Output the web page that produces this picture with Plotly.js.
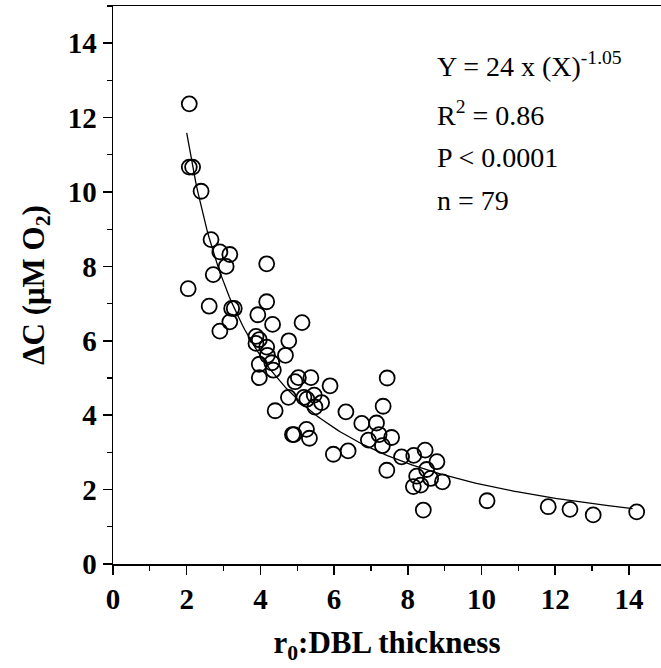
<!DOCTYPE html>
<html>
<head>
<meta charset="utf-8">
<script src="https://cdn.plot.ly/plotly-3.0.1.min.js"></script>
<style>html,body{margin:0;padding:0;background:#fff;}#chart{width:661px;height:668px;}</style>
</head>
<body>
<div id="chart"></div>
<script>
// r0 : DBL thickness (x) and ΔC (µM O2) (y)
const thickness = [2.07, 2.07, 2.16, 2.39, 2.66, 2.90, 3.17, 4.17, 3.07, 2.72,
  2.04, 2.61, 4.17, 3.22, 3.29, 3.17, 2.90, 3.93, 4.33, 5.13,
  3.88, 3.97, 3.88, 4.77, 4.17, 4.19, 4.68, 3.97, 4.31, 4.35,
  3.97, 4.94, 5.03, 5.37, 7.44, 5.89, 4.76, 5.18, 5.26, 5.46,
  5.66, 5.48, 7.33, 6.32, 6.75, 7.15, 6.93, 7.22, 7.56, 7.31,
  4.87, 4.91, 5.25, 5.33, 5.98, 6.38, 7.83, 8.16, 8.47, 8.79,
  7.43, 8.51, 8.24, 8.62, 8.94, 8.15, 8.35, 8.42, 10.15, 11.81,
  12.40, 13.03, 14.21, 4.40];
const deltaC = [12.37, 10.67, 10.67, 10.02, 8.72, 8.39, 8.32, 8.07, 8.00, 7.78,
  7.40, 6.93, 7.05, 6.87, 6.87, 6.51, 6.26, 6.70, 6.44, 6.49,
  6.12, 6.03, 5.93, 6.00, 5.83, 5.61, 5.61, 5.37, 5.41, 5.21,
  5.01, 4.90, 5.01, 5.01, 5.00, 4.79, 4.48, 4.48, 4.43, 4.54,
  4.34, 4.22, 4.24, 4.09, 3.78, 3.79, 3.33, 3.48, 3.40, 3.18,
  3.48, 3.48, 3.62, 3.38, 2.95, 3.04, 2.88, 2.92, 3.06, 2.75,
  2.52, 2.54, 2.36, 2.30, 2.21, 2.08, 2.12, 1.45, 1.70, 1.54,
  1.47, 1.32, 1.40, 4.12];

// fitted power law stated on the figure: Y = 24 x X^-1.05
const fitA = 24, fitB = -1.05;
const fitStart = 2.0, fitEnd = 14.1;
const fitX = [], fitY = [];
for (let i = 0; i <= 200; i++) {
  const x = fitStart + (fitEnd - fitStart) * i / 200;
  fitX.push(x); fitY.push(fitA * Math.pow(x, fitB));
}

const tickVals = [0, 2, 4, 6, 8, 10, 12, 14];
const statLines = ['Y = 24 x (X)<sup>-1.05</sup>', 'R<sup>2</sup> = 0.86', 'P < 0.0001', 'n = 79'];
const statY = [13.42, 12.12, 10.93, 9.78];

const serif = 'Liberation Serif';

const traces = [
  {x: fitX, y: fitY, mode: 'lines', line: {color: '#000', width: 1.3}, hoverinfo: 'skip'},
  {x: thickness, y: deltaC, mode: 'markers',
   marker: {symbol: 'circle-open', size: 15, color: '#000', line: {width: 1.8, color: '#000'}}}
];

const annotations = statLines.map((t, i) => ({
  x: 8.75, y: statY[i], xref: 'x', yref: 'y', text: t, showarrow: false,
  xanchor: 'left', yanchor: 'middle', font: {family: serif, size: 28, color: '#000'}
}));

const axisCommon = {
  showgrid: false, zeroline: false, showline: true, linecolor: '#000', linewidth: 1.5,
  ticks: 'outside', ticklen: 9, tickwidth: 1.5, tickcolor: '#000',
  tickvals: tickVals, ticktext: tickVals.map(String),
  tickfont: {family: serif, size: 29, color: '#000', weight: 'bold'},
  minor: {dtick: 1, ticks: 'outside', ticklen: 5, tickwidth: 1.2, tickcolor: '#000', showgrid: false}
};

const layout = {
  width: 661, height: 668, showlegend: false,
  paper_bgcolor: '#fff', plot_bgcolor: '#fff',
  margin: {l: 113, r: 0, t: 6, b: 104},
  xaxis: Object.assign({}, axisCommon, {
    range: [0, 14.87], mirror: true,
    title: {text: 'r<sub>0</sub>:DBL thickness', standoff: 17,
      font: {family: serif, size: 31, color: '#000', weight: 'bold'}}
  }),
  yaxis: Object.assign({}, axisCommon, {
    range: [0, 15],
    title: {text: 'ΔC (μM O<sub>2</sub>)', standoff: 14,
      font: {family: serif, size: 31, color: '#000', weight: 'bold'}}
  }),
  annotations: annotations
};

Plotly.newPlot('chart', traces, layout, {staticPlot: true, displayModeBar: false});
</script>
</body>
</html>
